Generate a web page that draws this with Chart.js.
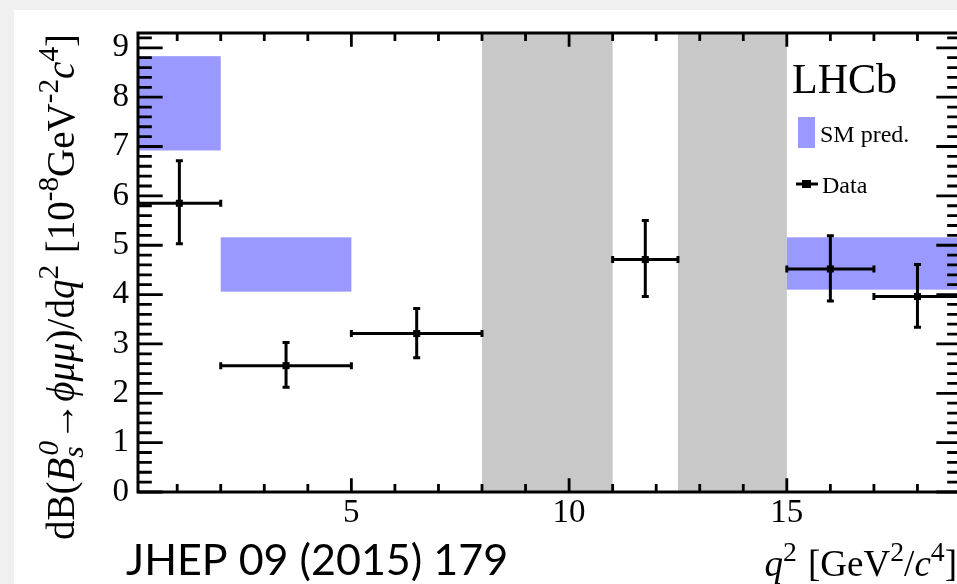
<!DOCTYPE html>
<html>
<head>
<meta charset="utf-8">
<script src="https://cdn.jsdelivr.net/npm/chart.js@4.4.1/dist/chart.umd.min.js"></script>
<style>
  html, body { margin: 0; padding: 0; background: #f0f0f0; overflow: hidden; width: 957px; height: 584px; }
  #panel { position: absolute; left: 14px; top: 10px; right: 0; bottom: 0; background: #ffffff; }
  #plot { position: absolute; left: 0; top: 0; }
</style>
</head>
<body>
<div id="panel"></div>
<canvas id="plot" width="975" height="584"></canvas>
<script>
// q^2 bins of the measurement [GeV^2/c^4]
const binLo   = [0.1, 2.0, 5.0, 11.0, 15.0, 17.0];
const binHi   = [2.0, 5.0, 8.0, 12.5, 17.0, 19.0];
const binMid  = [1.05, 3.5, 6.5, 11.75, 16.0, 18.0];
// measured dB/dq^2 [1e-8 GeV^-2 c^4] with total asymmetric uncertainties
const dataVal  = [5.85, 2.56, 3.21, 4.71, 4.52, 3.96];
const dataUp   = [0.86, 0.47, 0.51, 0.79, 0.67, 0.65];
const dataDown = [0.82, 0.44, 0.49, 0.75, 0.65, 0.62];
// Standard Model prediction bands
const smLo  = [0.1, 2.0, 15.0];
const smHi  = [2.0, 5.0, 19.0];
const smMin = [6.92, 4.06, 4.10];
const smMax = [8.83, 5.16, 5.16];
// charmonium veto regions
const vetoLo = [8.0, 12.5];
const vetoHi = [11.0, 15.0];
// axis tick labels
const xTickVals = [5, 10, 15];
const yTickVals = [0, 1, 2, 3, 4, 5, 6, 7, 8, 9];

const SERIF = "'Liberation Serif', 'Times New Roman', 'DejaVu Serif', serif";
const SM_COLOR = 'rgb(153,153,255)';
const VETO_COLOR = 'rgb(200,200,200)';
const SCRIPT = 0.75;

function fontStr(size, italic) {
  return (italic ? 'italic ' : '') + size + 'px ' + SERIF;
}

// Rich text with italics, superscripts and subscripts (stacked sub/sup supported)
function richWidth(ctx, segs, size) {
  let w = 0;
  for (const s of segs) {
    if (s.stack) {
      let m = 0;
      s.stack.forEach((p, i) => {
        ctx.font = fontStr(size * SCRIPT, p.it);
        m = Math.max(m, ctx.measureText(p.t).width + (i === 0 ? 0 : size * 0.06));
      });
      w += m;
    } else {
      const sz = s.sup || s.sub ? size * SCRIPT : size;
      ctx.font = fontStr(sz, s.it);
      w += ctx.measureText(s.t).width + (s.gap || 0) * size;
    }
  }
  return w;
}
function drawRich(ctx, segs, size, x, y) {
  ctx.textBaseline = 'alphabetic';
  ctx.textAlign = 'left';
  let cx = x;
  for (const s of segs) {
    if (s.stack) {
      let m = 0;
      s.stack.forEach((p, i) => {
        ctx.font = fontStr(size * SCRIPT, p.it);
        const dy = i === 0 ? size * 0.24 : -size * 0.42;
        const off = i === 0 ? 0 : size * 0.06;
        ctx.fillText(p.t, cx + off, y + dy);
        m = Math.max(m, ctx.measureText(p.t).width + off);
      });
      cx += m;
    } else {
      const sz = s.sup || s.sub ? size * SCRIPT : size;
      ctx.font = fontStr(sz, s.it);
      const dy = s.sup ? -size * 0.40 : (s.sub ? size * 0.24 : 0);
      ctx.fillText(s.t, cx, y + dy);
      cx += ctx.measureText(s.t).width + (s.gap || 0) * size;
    }
  }
}

const yTitle = [
  { t: 'dB(' }, { t: 'B', it: true }, { stack: [{ t: 's', it: true }, { t: '0', it: true }] },
  { t: '\u2192' }, { t: '\u03D5\u03BC\u03BC', it: true }, { t: ')/d' }, { t: 'q', it: true },
  { t: '2', sup: true, gap: 0.05 }, { t: ' [10' }, { t: '-8', sup: true }, { t: 'GeV' }, { t: '-2', sup: true },
  { t: 'c', it: true }, { t: '4', sup: true }, { t: ']' }
];
const xTitle = [
  { t: 'q', it: true }, { t: '2', sup: true, gap: 0.05 }, { t: ' [GeV' }, { t: '2', sup: true },
  { t: '/' }, { t: 'c', it: true }, { t: '4', sup: true }, { t: ']' }
];

const bandsPlugin = {
  id: 'bands',
  beforeDatasetsDraw(chart) {
    const { ctx, chartArea: a, scales: { x, y } } = chart;
    ctx.save();
    ctx.beginPath();
    ctx.rect(a.left, a.top, a.right - a.left, a.bottom - a.top);
    ctx.clip();
    ctx.fillStyle = VETO_COLOR;
    vetoLo.forEach((lo, i) => {
      const x0 = x.getPixelForValue(lo), x1 = x.getPixelForValue(vetoHi[i]);
      ctx.fillRect(x0, a.top, x1 - x0, a.bottom - a.top);
    });
    ctx.fillStyle = SM_COLOR;
    smLo.forEach((lo, i) => {
      const x0 = x.getPixelForValue(lo), x1 = x.getPixelForValue(smHi[i]);
      const y0 = y.getPixelForValue(smMax[i]), y1 = y.getPixelForValue(smMin[i]);
      ctx.fillRect(x0, y0, x1 - x0, y1 - y0);
    });
    // error bars of the data points
    ctx.strokeStyle = '#000';
    ctx.lineWidth = 3;
    const cap = 3.5;
    dataVal.forEach((v, i) => {
      const px = x.getPixelForValue(binMid[i]), py = y.getPixelForValue(v);
      const xl = x.getPixelForValue(binLo[i]), xr = x.getPixelForValue(binHi[i]);
      const yt = y.getPixelForValue(v + dataUp[i]), yb = y.getPixelForValue(v - dataDown[i]);
      ctx.beginPath();
      ctx.moveTo(xl, py); ctx.lineTo(xr, py);
      ctx.moveTo(px, yt); ctx.lineTo(px, yb);
      ctx.moveTo(xl, py - cap); ctx.lineTo(xl, py + cap);
      ctx.moveTo(xr, py - cap); ctx.lineTo(xr, py + cap);
      ctx.moveTo(px - cap, yt); ctx.lineTo(px + cap, yt);
      ctx.moveTo(px - cap, yb); ctx.lineTo(px + cap, yb);
      ctx.stroke();
    });
    ctx.restore();
  },
  afterDatasetsDraw(chart) {
    const { ctx, chartArea: a, scales: { x, y } } = chart;
    const W = a.right - a.left, H = a.bottom - a.top;
    const yMaj = 0.03 * W, yMin = yMaj * 0.56;
    const xMaj = 0.03 * H, xMin = xMaj * 0.58;
    ctx.save();
    ctx.strokeStyle = '#000';
    ctx.lineWidth = 2.8;
    ctx.beginPath();
    for (let k = 0; k <= 46; k++) {
      const py = y.getPixelForValue(k / 5);
      const len = k % 5 === 0 ? yMaj : yMin;
      ctx.moveTo(a.left, py); ctx.lineTo(a.left + len, py);
      ctx.moveTo(a.right, py); ctx.lineTo(a.right - len, py);
    }
    for (let k = 1; k <= 18; k++) {
      const px = x.getPixelForValue(k);
      const len = k % 5 === 0 ? xMaj : xMin;
      ctx.moveTo(px, a.bottom); ctx.lineTo(px, a.bottom - len);
      ctx.moveTo(px, a.top); ctx.lineTo(px, a.top + len);
    }
    ctx.stroke();
    ctx.lineWidth = 3;
    ctx.strokeRect(a.left, a.top, W, H);
    ctx.restore();
  },
  afterDraw(chart) {
    const { ctx, chartArea: a } = chart;
    ctx.save();
    ctx.fillStyle = '#000';
    // y-axis title, rotated, ending at the top of the frame
    const ySize = 39;
    const yw = richWidth(ctx, yTitle, ySize);
    ctx.translate(74, a.top + 1);
    ctx.rotate(-Math.PI / 2);
    drawRich(ctx, yTitle, ySize, -yw, 0);
    ctx.restore();

    ctx.save();
    ctx.fillStyle = '#000';
    const xSize = 37;
    const xw = richWidth(ctx, xTitle, xSize);
    drawRich(ctx, xTitle, xSize, a.right - 4 - xw, 576);

    // experiment label and legend
    ctx.font = fontStr(42, false);
    ctx.textBaseline = 'alphabetic';
    ctx.textAlign = 'left';
    ctx.fillText('LHCb', 792, 93);
    ctx.fillStyle = SM_COLOR;
    ctx.fillRect(798, 117, 17, 31);
    ctx.fillStyle = '#000';
    ctx.font = fontStr(24, false);
    ctx.fillText('SM pred.', 820, 142);
    ctx.fillText('Data', 822, 193);
    ctx.lineWidth = 3;
    ctx.beginPath();
    ctx.moveTo(796, 184); ctx.lineTo(818, 184);
    ctx.stroke();
    ctx.fillRect(802, 180, 9, 8);

    // journal reference
    ctx.font = "43px Lato, 'Open Sans', sans-serif";
    ctx.fillText('JHEP 09 (2015) 179', 126, 575);
    ctx.restore();
  }
};

const tickFont = { family: SERIF, size: 33 };

new Chart(document.getElementById('plot').getContext('2d'), {
  type: 'scatter',
  data: {
    datasets: [{
      label: 'Data',
      data: binMid.map((q, i) => ({ x: q, y: dataVal[i] })),
      pointStyle: 'rect',
      pointRadius: 5,
      backgroundColor: '#000',
      borderColor: '#000',
      borderWidth: 0
    }]
  },
  options: {
    responsive: false,
    animation: false,
    events: [],
    layout: { padding: { top: 33, right: 14, left: 0, bottom: 0 } },
    plugins: { legend: { display: false }, tooltip: { enabled: false } },
    scales: {
      x: {
        type: 'linear', min: 0.1, max: 19,
        grid: { display: false, drawTicks: false }, border: { display: false },
        afterBuildTicks: s => { s.ticks = xTickVals.map(v => ({ value: v })); },
        afterFit: s => { s.height = 92; },
        ticks: { font: tickFont, color: '#000', padding: 2, maxRotation: 0, autoSkip: false }
      },
      y: {
        type: 'linear', min: 0, max: 9.3,
        grid: { display: false, drawTicks: false }, border: { display: false },
        afterBuildTicks: s => { s.ticks = yTickVals.map(v => ({ value: v })); },
        afterFit: s => { s.width = 138; },
        ticks: { font: tickFont, color: '#000', padding: 9, autoSkip: false }
      }
    }
  },
  plugins: [bandsPlugin]
});
</script>
</body>
</html>
